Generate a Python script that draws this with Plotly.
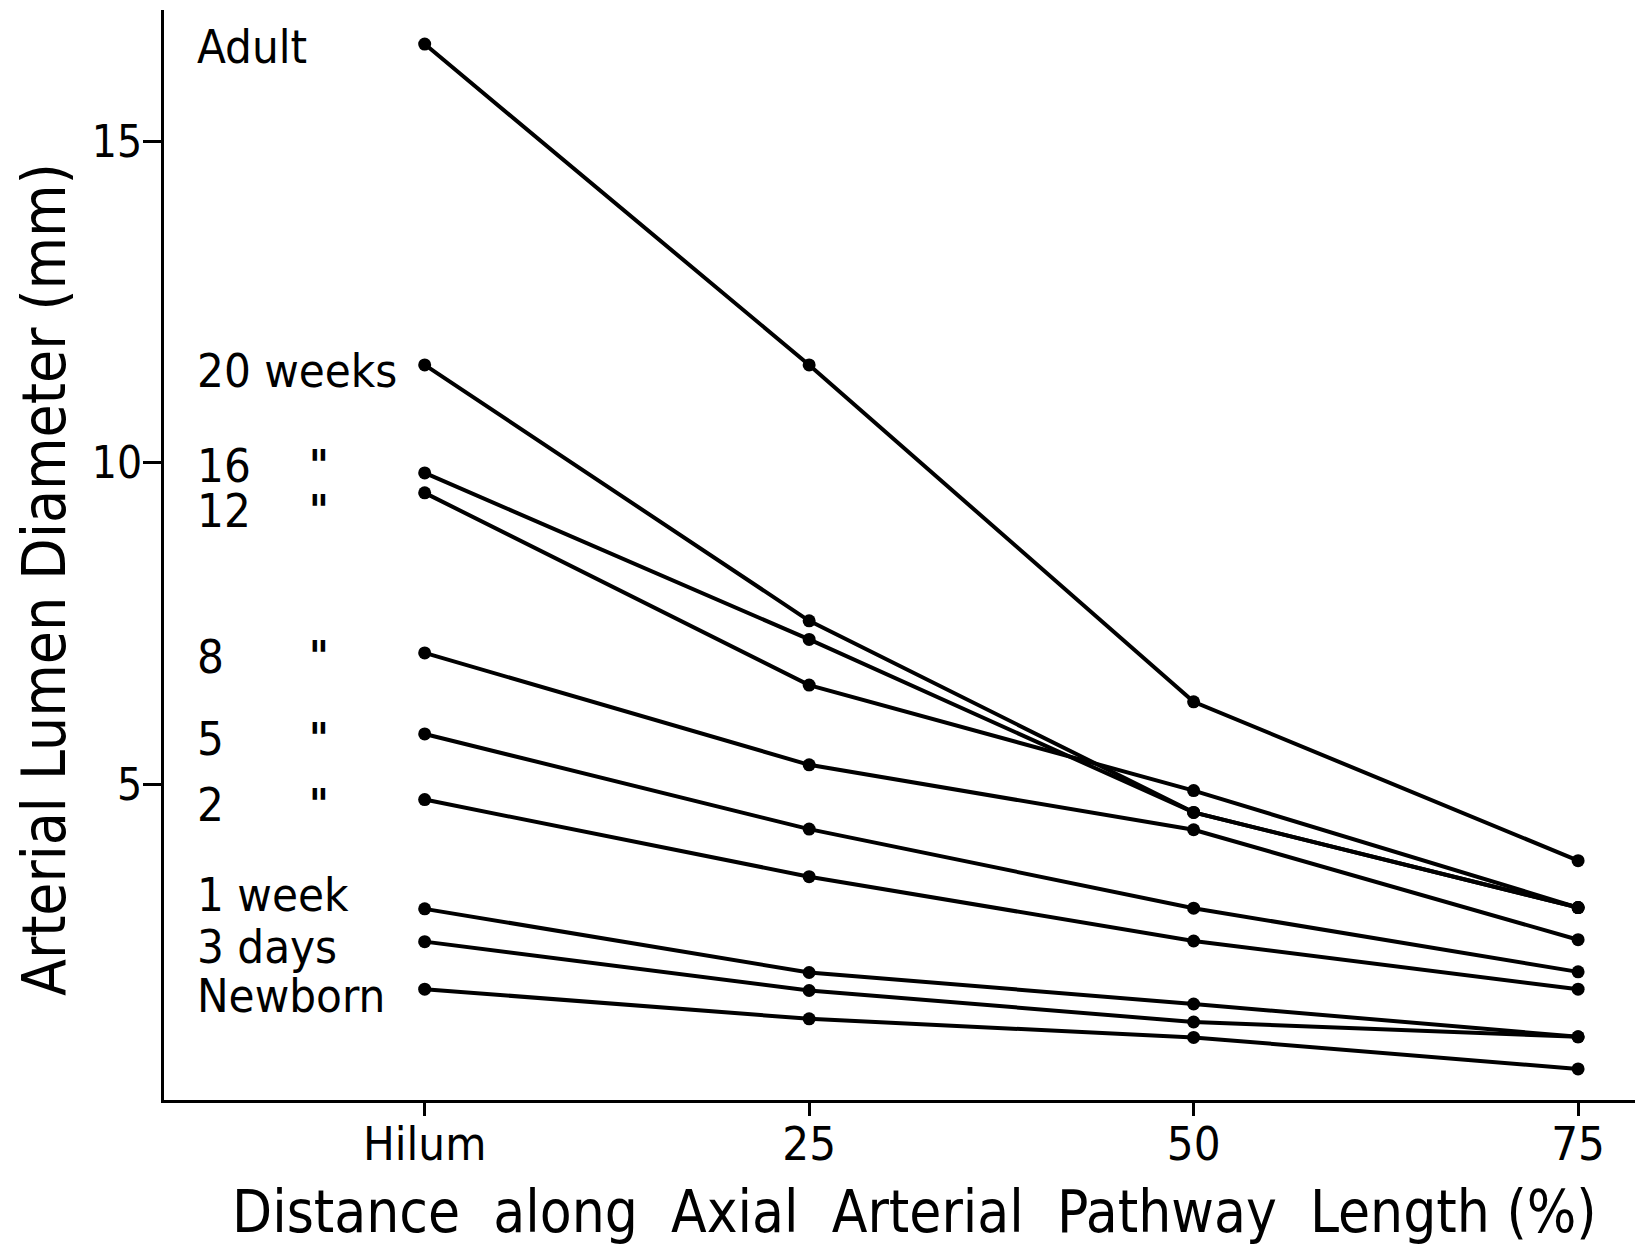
import plotly.graph_objects as go

# ---- data ----
positions = [0, 25, 50, 75]
x_tick_labels = ["Hilum", "25", "50", "75"]
y_ticks = [5, 10, 15]

series_names = ["Adult", "20 weeks", "16 weeks", "12 weeks", "8 weeks",
                "5 weeks", "2 weeks", "1 week", "3 days", "Newborn"]
adult = [16.51, 11.52, 6.28, 3.81]
weeks20 = [11.52, 7.54, 4.56, 3.08]
weeks16 = [9.84, 7.25, 4.56, 3.08]
weeks12 = [9.53, 6.54, 4.90, 3.08]
weeks8 = [7.04, 5.30, 4.29, 2.58]
weeks5 = [5.78, 4.30, 3.07, 2.08]
weeks2 = [4.76, 3.56, 2.56, 1.81]
week1 = [3.06, 2.07, 1.58, 1.07]
days3 = [2.55, 1.79, 1.30, 1.07]
newborn = [1.81, 1.35, 1.06, 0.57]

# series labels drawn at the left of the lines (text, y position in mm)
label_texts = ["Adult", "20 weeks", "16", "12", "8", "5", "2",
               "1 week", "3 days", "Newborn"]
label_y = [16.48, 11.44, 9.96, 9.26, 6.98, 5.71, 4.69, 3.28, 2.47, 1.71]
ditto_y = [9.96, 9.26, 6.98, 5.71, 4.69]

all_series = [adult, weeks20, weeks16, weeks12, weeks8, weeks5,
              weeks2, week1, days3, newborn]

FONT = "DejaVu Sans Condensed, DejaVu Sans, sans-serif"

fig = go.Figure()
for name, vals in zip(series_names, all_series):
    fig.add_trace(go.Scatter(
        x=positions, y=vals, mode="lines+markers", name=name,
        line=dict(color="black", width=4),
        marker=dict(color="black", size=13),
        showlegend=False,
    ))

for t, yv in zip(label_texts, label_y):
    fig.add_annotation(x=-14.92, y=yv, text=t, showarrow=False,
                       xanchor="left", yanchor="middle",
                       font=dict(family=FONT, size=47, color="black"))
for yv in ditto_y:
    fig.add_annotation(x=-6.85, y=yv, text="<b>\"</b>", showarrow=False,
                       xanchor="center", yanchor="middle",
                       font=dict(family=FONT, size=42, color="black"))

sp = "\u00a0\u00a0"
xtitle = sp.join(["Distance", "along", "Axial", "Arterial", "Pathway", "Length\u00a0(%)"])
fig.add_annotation(xref="paper", yref="paper", x=0.51, y=-0.103,
                   text=xtitle, showarrow=False, xanchor="center", yanchor="middle",
                   font=dict(family=FONT, size=58, color="black"))
fig.add_annotation(xref="paper", yref="paper", x=-0.0816, y=0.478,
                   text="Arterial Lumen Diameter (mm)", textangle=-90,
                   showarrow=False, xanchor="center", yanchor="middle",
                   font=dict(family=FONT, size=60, color="black"))

fig.update_layout(
    width=1635, height=1245,
    margin=dict(l=164, r=0, t=10, b=145),
    paper_bgcolor="white", plot_bgcolor="white",
    xaxis=dict(range=[-16.95, 78.7], tickvals=positions, ticktext=x_tick_labels,
               showgrid=False, zeroline=False, showline=True, linecolor="black",
               linewidth=3, ticks="outside", ticklen=13, tickwidth=2.5,
               tickcolor="black", ticklabelstandoff=-12,
               tickfont=dict(family=FONT, size=47, color="black")),
    yaxis=dict(range=[0.087, 17.04], tickvals=y_ticks,
               showgrid=False, zeroline=False, showline=True, linecolor="black",
               linewidth=3, ticks="outside", ticklen=18, tickwidth=2.5,
               tickcolor="black", ticklabelstandoff=-8,
               tickfont=dict(family=FONT, size=44, color="black")),
)

fig.write_html("out.html")
